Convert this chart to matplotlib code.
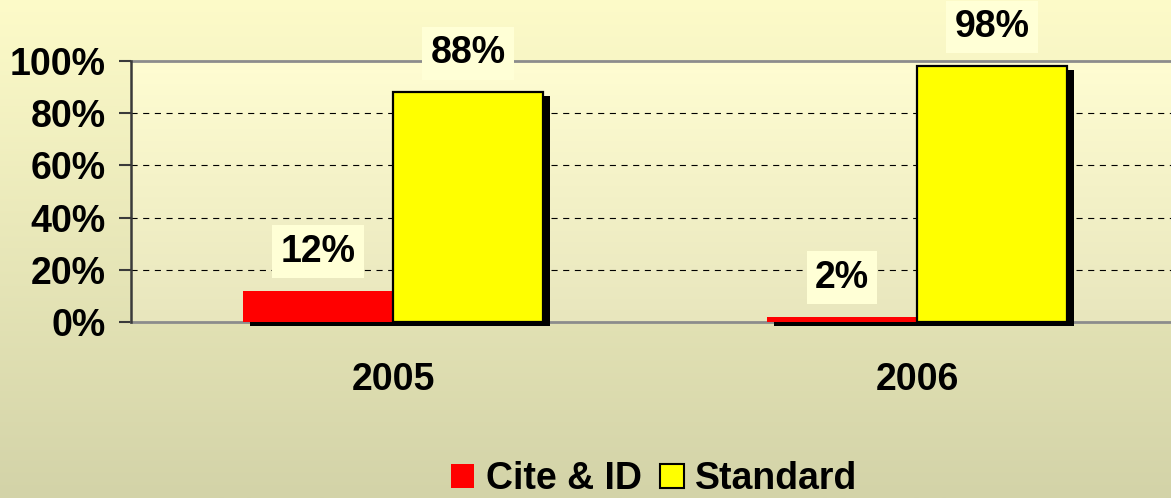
import numpy as np
import matplotlib
matplotlib.use('Agg')
import matplotlib.pyplot as plt
import matplotlib.patheffects as pe
from matplotlib.patches import Patch
from matplotlib.colors import LinearSegmentedColormap

years = ['2005', '2006']
cite_id = [0.12, 0.02]
standard = [0.88, 0.98]
y_ticks = [0, 0.2, 0.4, 0.6, 0.8, 1.0]
y_labels = ['0%', '20%', '40%', '60%', '80%', '100%']
series_names = ['Cite & ID', 'Standard']

FONT = 'Liberation Sans'
FS = 27
plt.rcParams['font.family'] = [FONT, 'DejaVu Sans']
plt.rcParams['font.weight'] = 'bold'

fig = plt.figure(figsize=(11.71, 4.98), dpi=100)

# figure background gradient
bg = fig.add_axes([0, 0, 1, 1], zorder=-10)
bg_cmap = LinearSegmentedColormap.from_list('bg', ['#FDFBC9', '#D3D3A8'])
bg.imshow(np.linspace(0, 1, 256).reshape(-1, 1), cmap=bg_cmap, aspect='auto',
          extent=[0, 1, 0, 1], origin='upper')
bg.axis('off')

ax = fig.add_axes([131 / 1171, 176 / 498, 1048 / 1171, 261 / 498])
ax.patch.set_visible(False)
pa_cmap = LinearSegmentedColormap.from_list('pa', ['#FFFDD2', '#E8E6BD'])
ax.imshow(np.linspace(0, 1, 256).reshape(-1, 1), cmap=pa_cmap, aspect='auto',
          extent=[0, 1, 0, 1], origin='upper', transform=ax.transAxes, zorder=0)

x = np.arange(len(years))
w = 0.286
shadow = [pe.SimplePatchShadow(offset=(5, -3), shadow_rgbFace='black', alpha=1.0), pe.Normal()]

b1 = ax.bar(x - w / 2, cite_id, w, color='#FF0000', edgecolor='none', zorder=3, clip_on=False)
b2 = ax.bar(x + w / 2, standard, w, color='#FFFF00', edgecolor='black', linewidth=1.6,
            zorder=3, clip_on=False)
for b in list(b1) + list(b2):
    b.set_path_effects(shadow)

# gridlines
for yv in y_ticks[1:-1]:
    ax.axhline(yv, color='black', linewidth=0.8, linestyle=(0, (5.5, 5)), zorder=1)
ax.axhline(1.0, color='#8C8C8C', linewidth=2, zorder=1, clip_on=False)
ax.axhline(0.0, color='#8C8C8C', linewidth=2, zorder=2, clip_on=False)

ax.set_xlim(-0.5, 1.5)
ax.set_ylim(0, 1)
ax.set_yticks(y_ticks)
ax.set_yticklabels(y_labels)
ax.set_xticks(x)
ax.set_xticklabels(years)
for s in ['top', 'right', 'bottom']:
    ax.spines[s].set_visible(False)
ax.spines['left'].set_color('#3A3A3A')
ax.spines['left'].set_linewidth(1.8)
ax.tick_params(axis='y', length=9, width=1.5, color='#3A3A3A', pad=9, labelsize=FS)
ax.tick_params(axis='x', length=0, pad=29, labelsize=FS)

# data labels
label_box = dict(boxstyle='square,pad=0.22', fc='#FFFFD6', ec='none')
for xi, v in zip(x - w / 2, cite_id):
    ax.annotate(f'{v:.0%}', (xi, v), xytext=(0, 31), textcoords='offset points',
                ha='center', va='center_baseline', fontsize=FS, fontweight='bold',
                bbox=label_box, zorder=5)
for xi, v in zip(x + w / 2, standard):
    ax.annotate(f'{v:.0%}', (xi, v), xytext=(0, 31), textcoords='offset points',
                ha='center', va='center_baseline', fontsize=FS, fontweight='bold',
                bbox=label_box, zorder=5)

handles = [Patch(facecolor='#FF0000', edgecolor='none'),
           Patch(facecolor='#FFFF00', edgecolor='black', linewidth=1.5)]
fig.legend(handles, series_names, loc='center', bbox_to_anchor=(654 / 1171, 1 - 479 / 498),
           ncol=2, frameon=False, fontsize=FS, handlelength=0.62, handleheight=0.62,
           handletextpad=0.3, columnspacing=0.5, borderaxespad=0, borderpad=0)

fig.savefig('out.png', dpi=100)
